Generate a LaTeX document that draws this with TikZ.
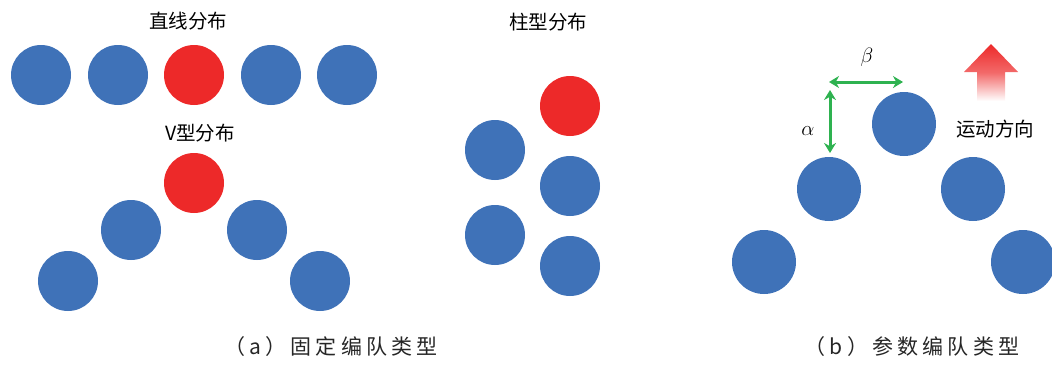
\documentclass[tikz,border=0pt]{standalone}
\usepackage{fontspec}
\newfontfamily\cjk{Noto Sans CJK SC}
\newfontfamily\cjkcap[LetterSpace=20]{Noto Sans CJK SC}
\usetikzlibrary{arrows.meta}
\definecolor{agentblue}{RGB}{63,114,184}
\definecolor{leaderred}{RGB}{237,41,41}
\definecolor{arrowgreen}{RGB}{46,178,80}
\begin{document}
\begin{tikzpicture}[x=1pt,y=-1pt,
  agent/.style={circle,minimum size=60pt,inner sep=0pt,fill=agentblue},
  leader/.style={agent,fill=leaderred},
  bagent/.style={agent,minimum size=64pt},
  titletext/.style={font=\cjk\fontsize{19.5}{19.5}\selectfont,text=black},
  captext/.style={font=\cjkcap\fontsize{21}{21}\selectfont,text=black!85},
  dimarrow/.style={draw=arrowgreen,line width=3pt,{Stealth[length=10pt,width=12pt]}-{Stealth[length=10pt,width=12pt]}},
  greek/.style={font=\fontsize{20}{20}\selectfont}]
\useasboundingbox (0,0) rectangle (1052,365);
% straight line
\node[titletext] (t1) at (188,21) {直线分布};
\node[agent] (l1) at (41,75) {};
\node[agent] (l2) at (118,75) {};
\node[leader] (l3) at (194,75) {};
\node[agent] (l4) at (271,75) {};
\node[agent] (l5) at (347,75) {};
% V
\node[titletext] (t2) at (200,133) {V型分布};
\node[leader] (v0) at (194,183) {};
\node[agent] (v1) at (131,230) {};
\node[agent] (v2) at (257,230) {};
\node[agent] (v3) at (68,281) {};
\node[agent] (v4) at (320,281) {};
% column
\node[titletext] (t3) at (548,22) {柱型分布};
\node[leader] (c0) at (570,106) {};
\node[agent] (c1) at (495,150) {};
\node[agent] (c2) at (570,186) {};
\node[agent] (c3) at (495,235) {};
\node[agent] (c4) at (570,266) {};
% panel b
\node[bagent] (p0) at (904,124) {};
\node[bagent] (p1) at (829,189) {};
\node[bagent] (p2) at (973,189) {};
\node[bagent] (p3) at (764,262) {};
\node[bagent] (p4) at (1023,262) {};
\coordinate (hb1) at (829,82);
\coordinate (hb2) at (903,82);
\coordinate (va1) at (830,90);
\coordinate (va2) at (830,153);
\draw[dimarrow] (hb1) -- (hb2);
\draw[dimarrow] (va1) -- (va2);
\node[greek] (beta) at (867,57) {$\beta$};
\node[greek] (alpha) at (808,131) {$\alpha$};
% motion arrow
\shade[top color=leaderred,bottom color=white,middle color=leaderred!70]
  (991,44) -- (1018,72) -- (1005,72) -- (1005,101) -- (977,101) -- (977,72) -- (964,72) -- cycle;
\node[titletext] (mv) at (995,129) {运动方向};
% captions
\node[captext] (ca) at (331,347) {（a）固定编队类型};
\node[captext] (cb) at (912,347) {（b）参数编队类型};
\end{tikzpicture}
\end{document}
